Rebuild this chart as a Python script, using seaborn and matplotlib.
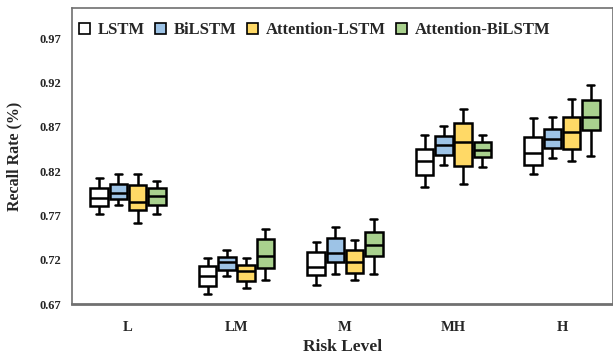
import numpy as np
import pandas as pd
import matplotlib
matplotlib.use("Agg")
import matplotlib.pyplot as plt
import seaborn as sns
from matplotlib.patches import Patch

levels = ["L", "LM", "M", "MH", "H"]
models = ["LSTM", "BiLSTM", "Attention-LSTM", "Attention-BiLSTM"]
colors = ["#FFFFFF", "#9DC3E6", "#FFD966", "#A9D18E"]

# five-number summaries per risk level: [min, q1, median, q3, max]
lstm = [
    [0.7715, 0.7805, 0.7900, 0.8005, 0.8120],
    [0.6813, 0.6903, 0.7016, 0.7129, 0.7215],
    [0.6911, 0.7031, 0.7121, 0.7283, 0.7403],
    [0.8023, 0.8158, 0.8313, 0.8445, 0.8606],
    [0.8170, 0.8271, 0.8400, 0.8580, 0.8801],
]
bilstm = [
    [0.7817, 0.7880, 0.7950, 0.8060, 0.8166],
    [0.7019, 0.7083, 0.7174, 0.7234, 0.7309],
    [0.7035, 0.7177, 0.7279, 0.7448, 0.7568],
    [0.8268, 0.8377, 0.8490, 0.8595, 0.8711],
    [0.8347, 0.8456, 0.8564, 0.8674, 0.8809],
]
att_lstm = [
    [0.7617, 0.7757, 0.7854, 0.8040, 0.8166],
    [0.6884, 0.6956, 0.7069, 0.7140, 0.7219],
    [0.6974, 0.7053, 0.7174, 0.7309, 0.7422],
    [0.8057, 0.8260, 0.8524, 0.8738, 0.8903],
    [0.8313, 0.8445, 0.8640, 0.8806, 0.9008],
]
att_bilstm = [
    [0.7718, 0.7817, 0.7918, 0.8005, 0.8084],
    [0.6971, 0.7110, 0.7245, 0.7433, 0.7549],
    [0.7038, 0.7241, 0.7369, 0.7516, 0.7659],
    [0.8249, 0.8358, 0.8440, 0.8530, 0.8606],
    [0.8373, 0.8662, 0.8812, 0.9001, 0.9166],
]
yticks = [0.67, 0.72, 0.77, 0.82, 0.87, 0.92, 0.97]

rows = []
for m, series in zip(models, [lstm, bilstm, att_lstm, att_bilstm]):
    for lv, vals in zip(levels, series):
        for v in vals:
            rows.append({"Risk Level": lv, "Model": m, "Recall": v})
df = pd.DataFrame(rows)

sns.set_theme(style="white")
plt.rcParams["font.family"] = ["Liberation Serif", "DejaVu Serif"]
plt.rcParams["font.weight"] = "bold"

fig = plt.figure(figsize=(6.13, 3.62), dpi=100)
ax = fig.add_axes([0.1175, 0.16, 0.8825, 0.818])

box_kws = dict(data=df, x="Risk Level", y="Recall", hue="Model",
               order=levels, hue_order=models, palette=colors,
               width=0.71, gap=0.1, whis=100, linewidth=1.8, linecolor="black",
               saturation=1, fliersize=0, legend=False, ax=ax)
try:
    sns.boxplot(capwidths=0.065, **box_kws)
except TypeError:
    ax.cla()
    sns.boxplot(**box_kws)

ax.set_xlim(-0.516, 4.47)
ax.set_ylim(0.67, 1.004)
ax.set_yticks(yticks)
ax.set_yticklabels([f"{t:.2f}" for t in yticks], fontsize=9, fontweight="bold")
ax.set_xticks(range(len(levels)))
ax.set_xticklabels(levels, fontsize=10.5, fontweight="bold")
ax.tick_params(axis="both", length=0, pad=12)
ax.tick_params(axis="y", pad=8)
ax.set_xlabel("Risk Level", fontsize=12.5, fontweight="bold", labelpad=4)
ax.set_ylabel("Recall Rate (%)", fontsize=11.5, fontweight="bold", labelpad=12)
for s in ax.spines.values():
    s.set_color("#707070")
    s.set_linewidth(1.2)
ax.spines["bottom"].set_linewidth(2)

handles = [Patch(facecolor=c, edgecolor="black", linewidth=1.2, label=m)
           for c, m in zip(colors, models)]
leg = ax.legend(handles=handles, loc="upper left", ncol=4, frameon=False,
                prop={"family": "Liberation Serif", "weight": "bold", "size": 12},
                handlelength=0.65, handleheight=0.65, handletextpad=0.5,
                columnspacing=0.6, borderaxespad=0.0, bbox_to_anchor=(0.0, 0.975))

fig.savefig("out.png", dpi=100)
